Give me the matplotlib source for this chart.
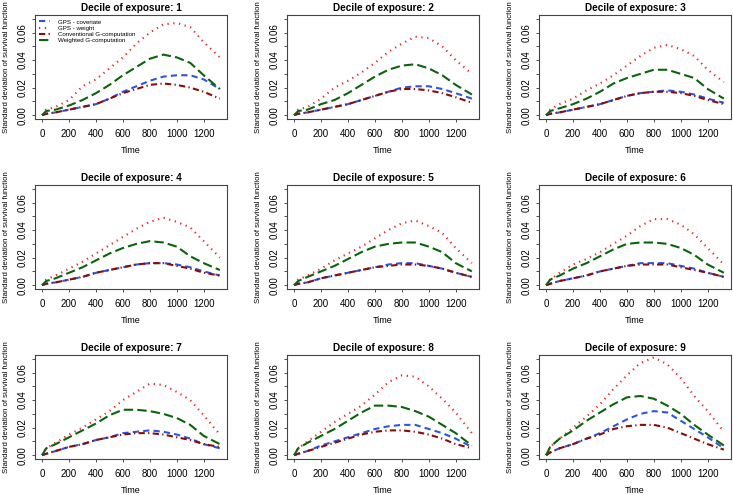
import matplotlib
matplotlib.use('Agg')
import matplotlib.pyplot as plt

plt.rcParams['font.family'] = ['Liberation Sans', 'DejaVu Sans']

# time grid (days)
times = [0, 30, 100, 200, 300, 400, 500, 600, 700, 800, 900, 1000, 1100, 1200, 1320]

deciles = [1, 2, 3, 4, 5, 6, 7, 8, 9]

# SD of survival function, one row per decile of exposure
gps_cov = [
    [0, .001, .002, .004, .006, .008, .012, .017, .021, .025, .028, .029, .029, .026, .019],
    [0, .001, .002, .004, .006, .008, .011, .014, .017, .020, .021, .021, .019, .016, .012],
    [0, .001, .002, .004, .006, .008, .011, .014, .016, .017, .018, .017, .015, .012, .009],
    [0, .001, .002, .004, .006, .009, .011, .013, .015, .016, .016, .015, .013, .010, .007],
    [0, .001, .002, .005, .007, .009, .011, .013, .015, .016, .016, .014, .012, .009, .006],
    [0, .001, .003, .005, .007, .010, .012, .014, .016, .016, .016, .014, .012, .009, .006],
    [0, .001, .003, .006, .008, .011, .013, .016, .017, .018, .017, .015, .012, .008, .005],
    [0, .001, .003, .007, .010, .013, .016, .019, .021, .022, .022, .019, .016, .012, .006],
    [0, .002, .005, .008, .012, .016, .021, .026, .030, .032, .031, .025, .019, .013, .005],
]
gps_wt = [
    [0, .004, .006, .011, .021, .026, .034, .042, .052, .060, .066, .067, .064, .053, .042],
    [0, .004, .006, .012, .020, .025, .031, .038, .046, .052, .057, .056, .050, .040, .030],
    [0, .004, .008, .012, .018, .023, .029, .036, .043, .049, .051, .048, .043, .033, .024],
    [0, .004, .007, .012, .017, .023, .029, .035, .041, .046, .049, .046, .042, .032, .020],
    [0, .004, .007, .012, .018, .023, .028, .034, .040, .045, .047, .043, .038, .027, .016],
    [0, .004, .009, .015, .019, .024, .030, .036, .043, .048, .048, .044, .037, .027, .015],
    [0, .005, .009, .015, .020, .026, .032, .040, .046, .052, .051, .046, .040, .029, .015],
    [0, .005, .010, .017, .024, .030, .036, .044, .053, .058, .057, .050, .041, .031, .016],
    [0, .006, .012, .020, .028, .037, .048, .058, .067, .071, .066, .056, .043, .032, .017],
]
conv_g = [
    [0, .001, .002, .004, .006, .008, .012, .016, .019, .022, .023, .022, .020, .017, .012],
    [0, .001, .002, .004, .006, .008, .011, .014, .017, .019, .019, .018, .016, .013, .009],
    [0, .001, .002, .004, .006, .008, .011, .014, .016, .017, .017, .016, .014, .011, .008],
    [0, .001, .002, .004, .006, .009, .011, .013, .015, .016, .016, .014, .012, .009, .007],
    [0, .001, .002, .005, .007, .009, .011, .013, .014, .015, .015, .014, .012, .009, .006],
    [0, .001, .003, .005, .007, .010, .012, .014, .015, .015, .015, .013, .011, .009, .006],
    [0, .001, .003, .006, .008, .011, .013, .015, .016, .016, .015, .013, .011, .008, .006],
    [0, .001, .003, .006, .009, .012, .015, .017, .018, .018, .017, .015, .012, .008, .005],
    [0, .002, .005, .008, .012, .015, .019, .021, .022, .022, .020, .016, .012, .008, .004],
]
wtd_g = [
    [0, .003, .004, .007, .011, .016, .022, .029, .035, .041, .044, .042, .038, .029, .019],
    [0, .003, .004, .008, .011, .016, .022, .028, .033, .036, .037, .034, .029, .022, .015],
    [0, .003, .005, .008, .012, .017, .023, .027, .030, .033, .033, .030, .027, .019, .012],
    [0, .003, .005, .009, .013, .018, .023, .027, .030, .032, .031, .028, .021, .016, .011],
    [0, .003, .006, .010, .014, .019, .024, .028, .030, .031, .031, .028, .024, .016, .010],
    [0, .004, .007, .012, .016, .021, .026, .030, .031, .031, .030, .027, .022, .015, .009],
    [0, .005, .008, .013, .018, .023, .029, .033, .033, .032, .030, .027, .022, .014, .008],
    [0, .005, .009, .014, .019, .025, .031, .036, .036, .035, .032, .028, .022, .016, .007],
    [0, .006, .012, .018, .025, .031, .037, .042, .043, .041, .036, .030, .022, .015, .007],
]

series = [
    (gps_cov, 'GPS - coveriate', '#2e55e0', (0, (3, 2))),
    (gps_wt, 'GPS - weight', '#f02020', (0, (0.6, 2.2))),
    (conv_g, 'Conventional G-computation', '#8b0a0a', (0, (3, 1.6, 0.6, 1.6))),
    (wtd_g, 'Weighted G-computation', '#0a640a', (0, (4.5, 2))),
]

W, H = 733, 495
fig = plt.figure(figsize=(W / 100, H / 100), dpi=100)

col_left = [35, 287, 539]
row_top = [15, 185, 355]
pw, ph = 192, 104

for k, dec in enumerate(deciles):
    r, c = divmod(k, 3)
    ax = fig.add_axes([col_left[c] / W, 1 - (row_top[r] + ph) / H, pw / W, ph / H])
    for data, label, color, ls in series:
        ax.plot(times, data[k], color=color, linestyle=ls, linewidth=1.5, label=label)
    ax.set_xlim(-53, 1373)
    ax.set_ylim(-0.0028, 0.0728)
    ax.set_xticks(range(0, 1201, 200))
    ax.set_yticks([i / 100 for i in range(8)])
    ax.set_yticklabels(['0.00', '', '0.02', '', '0.04', '', '0.06', ''])
    ax.tick_params(axis='both', labelsize=7, length=2.5, width=0.6, color='#333333')
    ax.tick_params(axis='x', pad=5)
    ax.tick_params(axis='y', labelrotation=90, pad=2.5)
    for lab in ax.get_yticklabels():
        lab.set_va('center')
    for sp in ax.spines.values():
        sp.set_linewidth(0.8)
        sp.set_color('#444444')
    ax.set_title('Decile of exposure: %d' % dec, fontsize=7.2, fontweight='bold', pad=3)
    ax.set_xlabel('Time', fontsize=6.5, labelpad=4.5)
    ax.set_ylabel('Standard deviation of survival function', fontsize=5.6, labelpad=6)
    if k == 0:
        ax.legend(loc='upper left', frameon=False, fontsize=4.4, handlelength=1.8,
                  handletextpad=1.3, labelspacing=0.15, borderaxespad=0.3,
                  bbox_to_anchor=(0.0, 1.0))

plt.savefig('out.png', dpi=100, facecolor='white')
